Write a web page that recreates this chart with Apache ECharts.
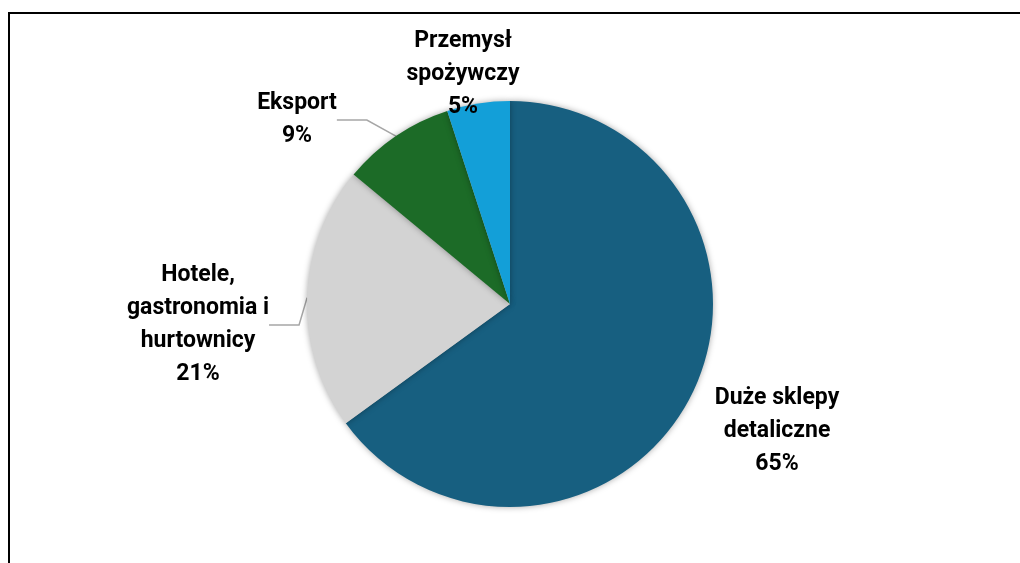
<!DOCTYPE html>
<html>
<head>
<meta charset="utf-8">
<script src="https://cdn.jsdelivr.net/npm/echarts@6/dist/echarts.min.js"></script>
<style>
  html, body { margin: 0; padding: 0; background: #fff; }
  #chart { width: 1020px; height: 563px; }
</style>
</head>
<body>
<div id="chart"></div>
<script>
// data
var categories = ['Duże sklepy\ndetaliczne', 'Hotele,\ngastronomia i\nhurtownicy', 'Eksport', 'Przemysł\nspożywczy'];
var shares = [65, 21, 9, 5];

var colors = ['#175f80', '#d3d3d3', '#1c6b27', '#139fd8'];
// where each label sits (centre of text block)
var labelPos = [[777, 431], [198, 325], [297, 120], [463, 74]];
var showLine = [false, true, true, false];

var chart = echarts.init(document.getElementById('chart'));

var pieData = categories.map(function (name, i) {
    return {
        name: name,
        value: shares[i],
        itemStyle: { color: colors[i] },
        labelLine: { show: showLine[i] }
    };
});

chart.setOption({
    animation: false,
    graphic: [
        {
            type: 'rect',
            shape: { x: 9, y: 13, width: 1200, height: 800 },
            style: { fill: 'none', stroke: '#000', lineWidth: 2 },
            silent: true
        }
    ],
    series: [
        {
            type: 'pie',
            center: [510, 304],
            radius: 203,
            startAngle: 90,
            clockwise: true,
            itemStyle: {
                shadowBlur: 6,
                shadowColor: 'rgba(0,0,0,0.35)'
            },
            label: {
                show: true,
                formatter: '{b}\n{d}%',
                fontFamily: 'Roboto',
                fontWeight: 'bold',
                fontSize: 23,
                lineHeight: 33,
                color: '#000',
                align: 'center'
            },
            labelLine: {
                lineStyle: { color: '#a6a6a6', width: 1.5 }
            },
            labelLayout: function (params) {
                var p = labelPos[params.dataIndex];
                return {
                    x: p[0],
                    y: p[1],
                    align: 'center',
                    verticalAlign: 'middle'
                };
            },
            data: pieData
        }
    ]
});
</script>
</body>
</html>
